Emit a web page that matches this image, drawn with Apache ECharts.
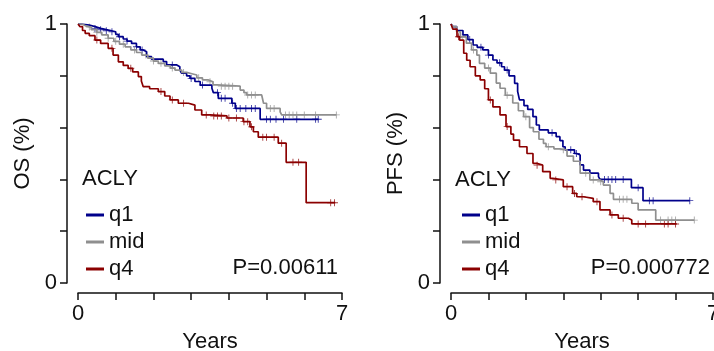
<!DOCTYPE html>
<html>
<head>
<meta charset="utf-8">
<script src="https://cdn.jsdelivr.net/npm/echarts@6/dist/echarts.min.js"></script>
<style>
html, body { margin: 0; padding: 0; background: #fff; }
#chart { width: 714px; height: 351px; }
</style>
</head>
<body>
<div id="chart"></div>
<script>
// groups and colours
const groups = ['q1', 'mid', 'q4'];
const groupColors = ['#00008b', '#8f8f8f', '#8b0000'];
const xTicks = [0, 7];
const yTicks = [0, 1];
const geneName = 'ACLY';
const pOS = 'P=0.00611';
const pPFS = 'P=0.000772';

// OS curves: [years, survival] steps, last pair = end of follow-up
const osQ1 = [[0,1],[0.1,0.996],[0.3,0.99],[0.45,0.983],[0.6,0.978],[0.75,0.974],[0.89,0.97],[1.0,0.96],[1.07,0.951],[1.2,0.942],[1.3,0.934],[1.42,0.925],[1.55,0.912],[1.65,0.9],[1.73,0.893],[1.82,0.874],[1.95,0.864],[2.26,0.855],[2.35,0.842],[2.62,0.835],[2.7,0.822],[2.75,0.81],[2.88,0.8],[2.97,0.79],[3.1,0.778],[3.24,0.764],[3.55,0.752],[3.59,0.735],[3.72,0.713],[4.08,0.694],[4.17,0.674],[4.83,0.632],[6.37,0.632]];
const osMid = [[0,1],[0.1,0.993],[0.2,0.988],[0.35,0.978],[0.5,0.968],[0.63,0.958],[0.8,0.945],[0.95,0.933],[1.1,0.922],[1.25,0.912],[1.4,0.9],[1.55,0.89],[1.69,0.88],[1.85,0.868],[2.0,0.857],[2.13,0.848],[2.3,0.838],[2.45,0.83],[2.57,0.822],[2.75,0.813],[2.88,0.808],[3.02,0.803],[3.15,0.792],[3.3,0.784],[3.46,0.777],[3.58,0.765],[3.68,0.76],[4.3,0.745],[4.4,0.735],[4.47,0.726],[4.87,0.72],[4.92,0.694],[5.0,0.674],[5.36,0.661],[5.4,0.649],[6.85,0.649]];
const osQ4 = [[0,1],[0.05,0.99],[0.12,0.975],[0.19,0.964],[0.3,0.955],[0.45,0.938],[0.6,0.925],[0.8,0.906],[0.93,0.88],[1.07,0.854],[1.2,0.84],[1.33,0.829],[1.45,0.815],[1.6,0.797],[1.68,0.78],[1.73,0.758],[1.9,0.75],[2.13,0.739],[2.3,0.722],[2.44,0.707],[2.66,0.694],[2.93,0.687],[3.1,0.668],[3.28,0.649],[3.5,0.645],[3.95,0.637],[4.38,0.623],[4.56,0.603],[4.65,0.584],[4.78,0.563],[5.31,0.54],[5.52,0.466],[6.05,0.31],[6.82,0.31]];

// PFS curves
const pfsQ1 = [[0,1],[0.05,0.99],[0.15,0.975],[0.32,0.958],[0.45,0.94],[0.59,0.919],[0.7,0.91],[0.85,0.9],[1.0,0.88],[1.12,0.861],[1.23,0.85],[1.35,0.835],[1.43,0.822],[1.55,0.8],[1.7,0.771],[1.78,0.74],[1.83,0.707],[1.95,0.685],[2.05,0.67],[2.19,0.642],[2.28,0.61],[2.36,0.591],[2.6,0.58],[2.81,0.565],[2.91,0.55],[2.99,0.526],[3.05,0.514],[3.3,0.5],[3.36,0.494],[3.45,0.456],[3.54,0.436],[3.71,0.424],[3.94,0.411],[3.98,0.4],[4.82,0.368],[5.13,0.318],[6.38,0.318]];
const pfsMid = [[0,1],[0.05,0.99],[0.15,0.97],[0.25,0.95],[0.41,0.926],[0.55,0.9],[0.69,0.88],[0.76,0.848],[0.9,0.83],[1.05,0.81],[1.21,0.772],[1.31,0.752],[1.45,0.725],[1.65,0.695],[1.8,0.665],[1.94,0.642],[2.1,0.6],[2.2,0.584],[2.35,0.555],[2.47,0.539],[2.54,0.526],[2.75,0.518],[2.91,0.514],[3.1,0.49],[3.27,0.47],[3.45,0.424],[3.71,0.398],[3.98,0.391],[4.07,0.378],[4.25,0.346],[4.34,0.323],[4.83,0.308],[5.0,0.282],[5.47,0.243],[6.5,0.243]];
const pfsQ4 = [[0,1],[0.05,0.98],[0.16,0.951],[0.23,0.938],[0.34,0.887],[0.42,0.86],[0.51,0.835],[0.65,0.8],[0.78,0.784],[0.9,0.75],[1.0,0.707],[1.12,0.68],[1.31,0.649],[1.47,0.604],[1.6,0.575],[1.67,0.552],[1.83,0.526],[2.03,0.5],[2.19,0.462],[2.29,0.455],[2.45,0.43],[2.65,0.404],[2.72,0.398],[3.0,0.372],[3.25,0.346],[3.36,0.333],[3.54,0.327],[3.8,0.314],[3.98,0.282],[4.25,0.263],[4.47,0.25],[4.74,0.243],[4.83,0.228],[6.03,0.228]];

// censoring times (years)
const osCensQ1 = [0.45,0.6,0.75,0.9,1.1,1.3,1.55,1.7,2.5,3.0,3.3,3.7,3.8,3.9,4.1,4.2,4.3,4.45,4.6,4.7,5.0,5.1,5.25,5.45,5.8,6.3,6.37];
const osCensMid = [0.3,0.5,0.8,1.0,1.2,1.5,1.8,2.0,2.2,2.5,2.8,3.2,3.5,3.8,3.9,4.0,4.1,4.5,4.6,4.7,5.1,5.2,5.5,5.6,5.7,5.8,6.0,6.3,6.85];
const osCensQ4 = [0.5,0.9,1.4,2.2,2.5,2.8,3.4,3.6,3.7,3.8,4.0,4.2,4.4,4.5,4.6,4.9,5.0,5.2,5.4,5.7,5.85,6.7,6.8];
const pfsCensQ1 = [0.5,0.8,1.0,1.3,1.5,2.7,3.2,3.35,4.1,4.2,4.3,4.4,4.6,5.0,5.3,5.4,6.38];
const pfsCensMid = [0.3,0.6,1.0,1.5,2.0,2.6,3.0,3.6,3.8,4.0,4.5,4.6,4.7,5.6,5.8,5.9,6.0,6.5];
const pfsCensQ4 = [0.2,1.05,1.5,2.3,2.8,3.1,3.3,3.5,3.9,4.3,4.6,5.0,5.2,5.7,5.8,6.0];

const font = 'Liberation Sans, Arial, sans-serif';
const fs = 22;
const plus = 'path://M-0.5,-4h1v3.5h3.5v1h-3.5v3.5h-1v-3.5h-3.5v-1h3.5z';

function survAt(curve, t) {
    let s = 1;
    for (const p of curve) { if (p[0] <= t) s = p[1]; }
    return s;
}

function makeAxes(idx, title) {
    const x = {
        type: 'value', gridIndex: idx, min: 0, max: 7, interval: 1,
        offset: 10, splitLine: { show: false },
        axisLine: { show: true, onZero: false, lineStyle: { color: '#111', width: 1.5 } },
        axisTick: { show: true, length: 7, lineStyle: { color: '#111', width: 1.5 } },
        axisLabel: { margin: 10, color: '#111', fontSize: fs, fontFamily: font,
            formatter: v => xTicks.includes(v) ? String(v) : '' },
        name: 'Years', nameLocation: 'middle', nameGap: 38,
        nameTextStyle: { color: '#111', fontSize: fs, fontFamily: font }
    };
    const y = {
        type: 'value', gridIndex: idx, min: 0, max: 1, interval: 0.2,
        offset: 11, splitLine: { show: false },
        axisLine: { show: true, onZero: false, lineStyle: { color: '#111', width: 1.5 } },
        axisTick: { show: true, length: 7, lineStyle: { color: '#111', width: 1.5 } },
        axisLabel: { margin: 10, color: '#111', fontSize: fs, fontFamily: font,
            formatter: v => yTicks.includes(Math.round(v * 10) / 10) ? String(Math.round(v)) : '' },
        name: title, nameLocation: 'middle', nameGap: 33,
        nameTextStyle: { color: '#111', fontSize: fs, fontFamily: font }
    };
    return [x, y];
}

const panels = [
    { curves: [osQ1, osMid, osQ4], cens: [osCensQ1, osCensMid, osCensQ4] },
    { curves: [pfsQ1, pfsMid, pfsQ4], cens: [pfsCensQ1, pfsCensMid, pfsCensQ4] }
];

const series = [];
panels.forEach((pnl, pi) => {
    groups.forEach((g, gi) => {
        series.push({
            name: g, type: 'line', step: 'end', xAxisIndex: pi, yAxisIndex: pi,
            data: pnl.curves[gi], showSymbol: false, silent: true,
            lineStyle: { color: groupColors[gi], width: 1.7 },
            itemStyle: { color: groupColors[gi] }
        });
        series.push({
            name: g, type: 'scatter', xAxisIndex: pi, yAxisIndex: pi,
            data: pnl.cens[gi].map(t => [t, survAt(pnl.curves[gi], t)]),
            symbol: plus, symbolSize: 7, silent: true,
            itemStyle: { color: groupColors[gi], opacity: 0.8 }
        });
    });
});

const axesOS = makeAxes(0, 'OS (%)');
const axesPFS = makeAxes(1, 'PFS (%)');

const legendBase = {
    orient: 'vertical', icon: 'rect', itemWidth: 18, itemHeight: 3, itemGap: 5,
    data: groups, selectedMode: false,
    textStyle: { color: '#111', fontSize: fs, fontFamily: font }
};

const myChart = echarts.init(document.getElementById('chart'));
const option = {
    animation: false,
    backgroundColor: '#fff',
    grid: [
        { left: 78, top: 24, width: 264, height: 259, containLabel: false, outerBoundsMode: 'none' },
        { left: 451, top: 24, width: 262, height: 259, containLabel: false, outerBoundsMode: 'none' }
    ],
    xAxis: [axesOS[0], axesPFS[0]],
    yAxis: [axesOS[1], axesPFS[1]],
    legend: [
        Object.assign({}, legendBase, { left: 81, top: 199 }),
        Object.assign({}, legendBase, { left: 457, top: 199 })
    ],
    graphic: [
        { type: 'text', left: 82, top: 168, style: { text: geneName, fill: '#111', font: fs + 'px ' + font } },
        { type: 'text', left: 455, top: 169, style: { text: geneName, fill: '#111', font: fs + 'px ' + font } },
        { type: 'text', right: 376, top: 257, style: { text: pOS, fill: '#111', font: fs + 'px ' + font } },
        { type: 'text', right: 4, top: 257, style: { text: pPFS, fill: '#111', font: fs + 'px ' + font } }
    ],
    series: series
};
myChart.setOption(option);
window.addEventListener('resize', () => {
    myChart.resize();
});
</script>
</body>
</html>
